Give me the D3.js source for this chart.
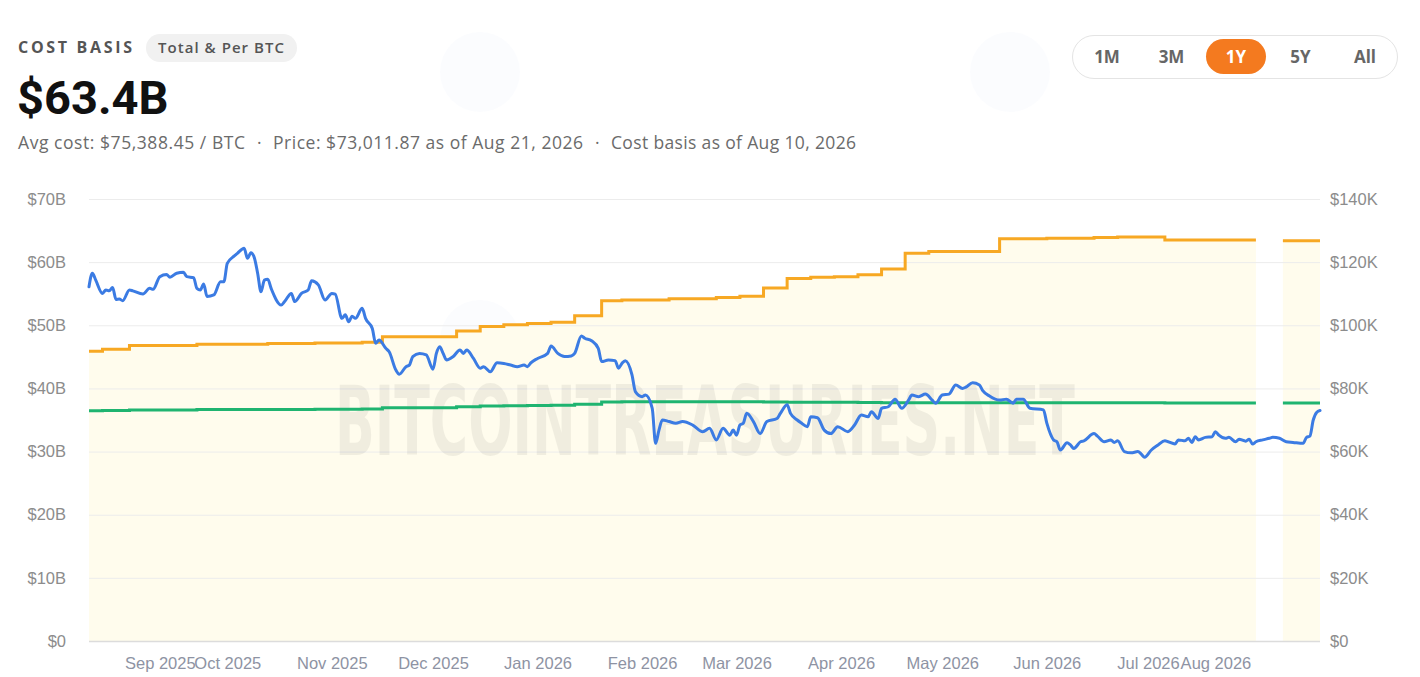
<!DOCTYPE html>
<html>
<head>
<meta charset="utf-8">
<script src="https://cdn.jsdelivr.net/npm/d3@7"></script>
<style>
  body { margin: 0; background: #fff; }
  svg { display: block; }
</style>
</head>
<body>
<svg id="chart" width="1420" height="677"></svg>
<script>
// BTC price (thousand USD), right axis
const priceHistory = [
  ["2025-08-21",112.2],["2025-08-22",116.5],["2025-08-23",114.3],["2025-08-25",110.1],["2025-08-26",111.2],["2025-08-27",110.9],["2025-08-28",112.0],["2025-08-29",108.2],["2025-08-30",108.3],["2025-08-31",107.8],
  ["2025-09-02",111.2],["2025-09-03",110.9],["2025-09-06",109.9],["2025-09-08",111.7],["2025-09-09",111.4],["2025-09-11",115.4],["2025-09-13",116.1],["2025-09-14",115.2],["2025-09-16",116.5],["2025-09-18",116.8],["2025-09-19",115.4],["2025-09-21",115.1],["2025-09-22",111.7],["2025-09-23",111.2],["2025-09-24",113.1],["2025-09-25",109.1],["2025-09-27",109.6],["2025-09-29",113.8],["2025-09-30",113.8],
  ["2025-10-01",119.6],["2025-10-03",121.9],["2025-10-04",122.8],["2025-10-06",124.4],["2025-10-07",121.2],["2025-10-08",123.0],["2025-10-09",121.5],["2025-10-10",116.5],["2025-10-11",110.6],["2025-10-12",114.3],["2025-10-13",114.6],["2025-10-14",111.7],["2025-10-17",106.4],["2025-10-18",107.5],["2025-10-20",110.1],["2025-10-21",107.5],["2025-10-23",110.1],["2025-10-25",111.2],["2025-10-26",114.1],["2025-10-28",112.8],["2025-10-30",108.0],
  ["2025-11-01",110.1],["2025-11-02",109.9],["2025-11-04",102.2],["2025-11-05",103.3],["2025-11-06",101.1],["2025-11-07",102.9],["2025-11-08",102.2],["2025-11-10",105.4],["2025-11-11",102.2],["2025-11-13",99.0],["2025-11-14",94.3],["2025-11-15",95.3],["2025-11-17",92.7],["2025-11-18",91.6],["2025-11-20",85.8],["2025-11-21",84.5],["2025-11-23",86.9],["2025-11-24",87.4],["2025-11-25",90.1],["2025-11-27",91.1],["2025-11-29",90.6],
  ["2025-12-01",86.1],["2025-12-02",91.1],["2025-12-03",93.2],["2025-12-04",91.1],["2025-12-05",89.0],["2025-12-07",90.1],["2025-12-09",92.2],["2025-12-10",91.1],["2025-12-11",92.2],["2025-12-13",89.5],["2025-12-15",86.4],["2025-12-16",86.9],["2025-12-18",85.3],["2025-12-20",88.1],["2025-12-22",87.9],["2025-12-24",87.4],["2025-12-26",86.9],["2025-12-28",87.4],["2025-12-29",86.9],["2025-12-30",88.1],
  ["2026-01-01",89.5],["2026-01-04",91.1],["2026-01-05",93.4],["2026-01-07",91.1],["2026-01-09",90.1],["2026-01-11",90.3],["2026-01-12",91.1],["2026-01-14",96.6],["2026-01-15",95.9],["2026-01-17",95.1],["2026-01-19",92.7],["2026-01-20",88.5],["2026-01-22",89.0],["2026-01-24",88.8],["2026-01-25",86.4],["2026-01-26",87.9],["2026-01-27",88.8],["2026-01-29",84.3],["2026-01-30",79.0],
  ["2026-02-01",77.4],["2026-02-02",77.9],["2026-02-04",73.7],["2026-02-05",62.6],["2026-02-06",66.8],["2026-02-07",70.0],["2026-02-09",69.5],["2026-02-11",69.0],["2026-02-13",69.5],["2026-02-16",68.4],["2026-02-19",66.3],["2026-02-21",67.4],["2026-02-23",63.7],["2026-02-25",67.4],["2026-02-27",65.2],["2026-02-28",66.8],
  ["2026-03-01",65.2],["2026-03-02",68.4],["2026-03-03",69.0],["2026-03-04",72.1],["2026-03-06",69.5],["2026-03-08",65.7],["2026-03-10",69.5],["2026-03-13",70.5],["2026-03-14",72.1],["2026-03-16",74.8],["2026-03-17",72.1],["2026-03-19",70.0],["2026-03-20",69.2],["2026-03-22",67.9],["2026-03-23",71.0],["2026-03-25",70.7],["2026-03-27",66.8],["2026-03-29",65.7],["2026-03-31",67.9],
  ["2026-04-03",66.3],["2026-04-05",68.4],["2026-04-07",71.6],["2026-04-09",71.0],["2026-04-10",72.6],["2026-04-12",70.5],["2026-04-13",73.7],["2026-04-15",74.2],["2026-04-17",76.6],["2026-04-19",73.7],["2026-04-21",76.3],["2026-04-22",77.9],["2026-04-24",77.4],["2026-04-26",78.2],["2026-04-28",76.3],["2026-04-29",75.3],
  ["2026-05-01",77.9],["2026-05-03",78.2],["2026-05-05",81.1],["2026-05-07",80.0],["2026-05-08",80.4],["2026-05-10",81.8],["2026-05-12",81.1],["2026-05-13",79.3],["2026-05-15",77.6],["2026-05-18",76.3],["2026-05-20",76.6],["2026-05-22",75.3],["2026-05-23",76.6],["2026-05-25",76.6],["2026-05-27",73.7],["2026-05-31",73.2],
  ["2026-06-01",69.0],["2026-06-03",63.7],["2026-06-04",63.1],["2026-06-05",60.5],["2026-06-07",62.8],["2026-06-08",62.1],["2026-06-09",61.0],["2026-06-11",63.1],["2026-06-12",63.4],["2026-06-15",65.7],["2026-06-16",64.9],["2026-06-18",63.1],["2026-06-20",63.7],["2026-06-21",62.9],["2026-06-22",63.4],["2026-06-24",60.0],["2026-06-26",59.6],["2026-06-28",60.0],["2026-06-29",59.2],["2026-06-30",58.2],
  ["2026-07-02",60.5],["2026-07-04",62.1],["2026-07-06",63.4],["2026-07-07",63.1],["2026-07-09",62.4],["2026-07-10",63.7],["2026-07-12",63.4],["2026-07-13",64.2],["2026-07-14",62.9],["2026-07-15",64.7],["2026-07-16",63.7],["2026-07-18",64.5],["2026-07-20",64.7],["2026-07-21",66.3],["2026-07-22",65.2],["2026-07-24",64.2],["2026-07-25",64.5],["2026-07-27",63.1],["2026-07-28",63.9],["2026-07-30",63.3],["2026-07-31",63.9],
  ["2026-08-01",62.4],["2026-08-02",63.1],["2026-08-04",63.7],["2026-08-06",64.2],["2026-08-07",64.5],["2026-08-09",64.2],["2026-08-11",63.1],["2026-08-13",62.9],["2026-08-16",62.6],["2026-08-17",64.5],["2026-08-18",64.9],["2026-08-19",70.0],["2026-08-20",72.4],["2026-08-21",73.0]
];

// cost basis steps (null = no data)
const costDates = ["2025-08-21","2025-08-25","2025-09-02","2025-09-22","2025-10-13","2025-10-27","2025-11-10","2025-11-16","2025-12-08","2025-12-15","2025-12-22","2025-12-29","2026-01-05","2026-01-12","2026-01-20","2026-01-26","2026-02-09","2026-02-23","2026-03-02","2026-03-09","2026-03-16","2026-03-23","2026-03-30","2026-04-06","2026-04-13","2026-04-20","2026-04-27","2026-05-18","2026-06-01","2026-06-15","2026-06-22","2026-07-06","2026-08-02","2026-08-03","2026-08-10","2026-08-21"];
const costTotalB = [45.9,46.2,46.8,47.0,47.1,47.2,47.3,48.2,49.1,49.8,50.1,50.3,50.5,51.5,53.9,54.0,54.2,54.4,54.6,55.9,57.4,57.6,57.7,58.0,58.9,61.4,61.7,63.7,63.8,63.9,64.0,63.5,63.5,null,63.4,63.4];
const costAvgK = [72.9,73.0,73.2,73.3,73.35,73.4,73.45,73.9,74.2,74.4,74.5,74.6,74.7,75.0,75.7,75.75,75.8,75.8,75.8,75.7,75.6,75.6,75.6,75.55,75.5,75.5,75.5,75.45,75.45,75.45,75.45,75.4,75.4,null,75.39,75.39];

const leftTicks = [0, 10, 20, 30, 40, 50, 60, 70];
const rightTicks = [0, 20, 40, 60, 80, 100, 120, 140];
const xTickDates = ["2025-09-11","2025-10-01","2025-11-01","2025-12-01","2026-01-01","2026-02-01","2026-03-01","2026-04-01","2026-05-01","2026-06-01","2026-07-01","2026-07-21"];
const xTickLabels = ["Sep 2025","Oct 2025","Nov 2025","Dec 2025","Jan 2026","Feb 2026","Mar 2026","Apr 2026","May 2026","Jun 2026","Jul 2026","Aug 2026"];
const ranges = ["1M", "3M", "1Y", "5Y", "All"];

const parse = d3.utcParse("%Y-%m-%d");
const price = priceHistory.map(d => ({ date: parse(d[0]), v: d[1] }));
const cost = costDates.map((d, i) => ({ date: parse(d), total: costTotalB[i], avg: costAvgK[i] }));

const svg = d3.select("#chart");
const uiFont = "'Open Sans', 'Noto Sans', sans-serif";
const bigFont = "Roboto, 'Noto Sans', sans-serif";
const axisFont = "'Liberation Sans', Arial, sans-serif";

// ---- header ----
svg.append("text").attr("x", 18).attr("y", 53)
  .attr("font-family", uiFont).attr("font-size", 16).attr("font-weight", 700)
  .attr("textLength", 114).attr("fill", "#555").text("COST BASIS");
svg.append("rect").attr("x", 146).attr("y", 34).attr("width", 151).attr("height", 28)
  .attr("rx", 14).attr("fill", "#f1f1f1");
svg.append("text").attr("x", 158).attr("y", 53)
  .attr("font-family", uiFont).attr("font-size", 15).attr("font-weight", 600)
  .attr("textLength", 126).attr("fill", "#555").text("Total & Per BTC");
svg.append("text").attr("x", 17).attr("y", 114)
  .attr("font-family", bigFont).attr("font-size", 47).attr("font-weight", 700)
  .attr("fill", "#111").text("$63.4B");

const subParts = [
  { x: 18, w: 227, t: "Avg cost: $75,388.45 / BTC" },
  { x: 257, w: null, t: "·" },
  { x: 273, w: 310, t: "Price: $73,011.87 as of Aug 21, 2026" },
  { x: 595, w: null, t: "·" },
  { x: 611, w: 245, t: "Cost basis as of Aug 10, 2026" }
];
svg.selectAll("text.sub").data(subParts).join("text").attr("class", "sub")
  .attr("x", d => d.x).attr("y", 149)
  .attr("font-family", uiFont).attr("font-size", 17.5).attr("fill", "#6b6b6b")
  .attr("textLength", d => d.w)
  .text(d => d.t);

// range toggle
svg.append("rect").attr("x", 1072.5).attr("y", 35.5).attr("width", 325).attr("height", 43)
  .attr("rx", 21.5).attr("fill", "#fff").attr("stroke", "#e4e4e4");
const btnX = d3.scalePoint().domain(ranges).range([1107, 1365]);
svg.append("rect").attr("x", btnX("1Y") - 30).attr("y", 39).attr("width", 60).attr("height", 35)
  .attr("rx", 17.5).attr("fill", "#f47a1f");
svg.selectAll("text.btn").data(ranges).join("text").attr("class", "btn")
  .attr("x", d => btnX(d)).attr("y", 63).attr("text-anchor", "middle")
  .attr("font-family", uiFont).attr("font-size", 17).attr("font-weight", 700)
  .attr("fill", d => d === "1Y" ? "#fff" : "#666").text(d => d);

// ---- chart ----
const x0 = 89, x1 = 1320, yTop = 199, yBot = 641;
const x = d3.scaleUtc().domain([parse("2025-08-21"), parse("2026-08-21")]).range([x0, x1]);
const yL = d3.scaleLinear().domain([0, 70]).range([yBot, yTop]);
const yR = d3.scaleLinear().domain([0, 140]).range([yBot, yTop]);

// faint logo ghosts
const ghosts = [[480, 72], [1010, 72], [480, 340], [1010, 340], [480, 600], [1010, 600]];
svg.selectAll("circle.ghost").data(ghosts).join("circle").attr("class", "ghost")
  .attr("cx", d => d[0]).attr("cy", d => d[1]).attr("r", 40)
  .attr("fill", "#dfe7f5").attr("opacity", 0.13);

// area under total cost basis
svg.append("path").datum(cost)
  .attr("fill", "#fffbea").attr("opacity", 0.85)
  .attr("d", d3.area().defined(d => d.total != null).curve(d3.curveStepAfter)
    .x(d => x(d.date)).y0(yL(0)).y1(d => yL(d.total)));

// grid
svg.append("g").selectAll("line").data(leftTicks).join("line")
  .attr("x1", x0).attr("x2", x1)
  .attr("y1", d => yL(d) + 0.5).attr("y2", d => yL(d) + 0.5)
  .attr("stroke", d => d === 0 ? "#dcdcdc" : "#ececec").attr("stroke-width", d => d === 0 ? 1.5 : 1);

// watermark: squeeze horizontally to fit 740px
const wm = svg.append("text").attr("text-anchor", "middle")
  .attr("font-family", "'DejaVu Sans Condensed', 'Liberation Sans Narrow', sans-serif")
  .attr("font-weight", 700).attr("font-size", 96)
  .attr("fill", "#000").attr("opacity", 0.055).text("BITCOINTREASURIES.NET");
const wmLen = wm.node().getComputedTextLength() || 740;
wm.attr("transform", `translate(705,455) scale(${740 / wmLen},1)`);

// axes
const leftAxis = svg.append("g").attr("transform", `translate(${x0},0)`)
  .call(d3.axisLeft(yL).tickValues(leftTicks).tickSize(0).tickPadding(23)
    .tickFormat(d => d === 0 ? "$0" : `$${d}B`));
const rightAxis = svg.append("g").attr("transform", `translate(${x1},0)`)
  .call(d3.axisRight(yR).tickValues(rightTicks).tickSize(0).tickPadding(10)
    .tickFormat(d => d === 0 ? "$0" : `$${d}K`));
const bottomAxis = svg.append("g").attr("transform", `translate(0,${yBot})`)
  .call(d3.axisBottom(x).tickValues(xTickDates.map(parse)).tickSize(0).tickPadding(16)
    .tickFormat((d, i) => xTickLabels[i]));
[leftAxis, rightAxis, bottomAxis].forEach(g => {
  g.select(".domain").remove();
  g.selectAll("text").attr("font-family", axisFont).attr("font-size", 16.5).attr("fill", "#8c8c8c");
});
bottomAxis.selectAll("text").attr("fill", "#8e93a3");

// lines
svg.append("path").datum(cost)
  .attr("fill", "none").attr("stroke", "#1fb470").attr("stroke-width", 3)
  .attr("d", d3.line().defined(d => d.avg != null).curve(d3.curveStepAfter)
    .x(d => x(d.date)).y(d => yR(d.avg)));

svg.append("path").datum(cost)
  .attr("fill", "none").attr("stroke", "#f7a823").attr("stroke-width", 3)
  .attr("d", d3.line().defined(d => d.total != null).curve(d3.curveStepAfter)
    .x(d => x(d.date)).y(d => yL(d.total)));

svg.append("path").datum(price)
  .attr("fill", "none").attr("stroke", "#3b7be3").attr("stroke-width", 3)
  .attr("stroke-linejoin", "round").attr("stroke-linecap", "round")
  .attr("d", d3.line().curve(d3.curveMonotoneX).x(d => x(d.date)).y(d => yR(d.v)));
</script>
</body>
</html>
